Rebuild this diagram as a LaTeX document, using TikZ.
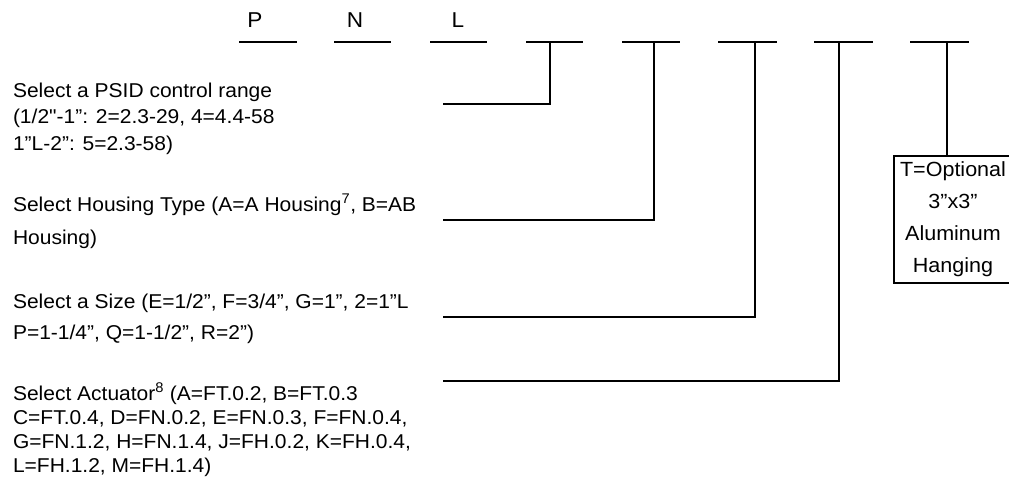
\documentclass[tikz,border=0pt]{standalone}
\usepackage{fontspec}
\newfontfamily\lblfont{Liberation Sans}[FakeStretch=1.05]

\begin{document}
\begin{tikzpicture}
    [
        x=1pt, y=-1pt, line width=2pt,
        blank_style/.style={draw=black, line width=2pt},
        lead_style/.style={draw=black, line width=2pt},
        letter_style/.style={anchor=base, inner sep=0pt, font=\lblfont\fontsize{21.5}{24}\selectfont},
        text_style/.style={anchor=base west, align=left, inner sep=0pt},
        box_style/.style={draw=black, line width=2pt, align=center, minimum width=118pt,
            minimum height=127pt, inner sep=0pt, font=\lblfont\fontsize{20.5}{32}\selectfont}
    ]
        \useasboundingbox (0,0) rectangle (1009,495);

        % blanks of the part number
        \coordinate (b1l) at (239,42); \coordinate (b1r) at (297,42);
        \coordinate (b2l) at (334,42); \coordinate (b2r) at (391,42);
        \coordinate (b3l) at (430,42); \coordinate (b3r) at (487,42);
        \coordinate (b4l) at (526,42); \coordinate (b4r) at (583,42);
        \coordinate (b5l) at (622,42); \coordinate (b5r) at (680,42);
        \coordinate (b6l) at (718,42); \coordinate (b6r) at (777,42);
        \coordinate (b7l) at (814,42); \coordinate (b7r) at (873,42);
        \coordinate (b8l) at (910,42); \coordinate (b8r) at (969,42);
        \draw[blank_style] (b1l) -- (b1r);
        \draw[blank_style] (b2l) -- (b2r);
        \draw[blank_style] (b3l) -- (b3r);
        \draw[blank_style] (b4l) -- (b4r);
        \draw[blank_style] (b5l) -- (b5r);
        \draw[blank_style] (b6l) -- (b6r);
        \draw[blank_style] (b7l) -- (b7r);
        \draw[blank_style] (b8l) -- (b8r);

        \node[letter_style] (p) at (255,28) {P};
        \node[letter_style] (n) at (355,28) {N};
        \node[letter_style] (l) at (458,28) {L};

        % taps on the open blanks
        \coordinate (t4) at (550,42);
        \coordinate (t5) at (654,42);
        \coordinate (t6) at (755,42);
        \coordinate (t7) at (839,42);
        \coordinate (t8) at (947,42);

        % option texts (base = last line)
        \node[text_style, font=\lblfont\fontsize{20}{26.5}\selectfont] (psid) at (12,150)
            {Select a PSID control range\\(1/2"-1”: 2=2.3-29, 4=4.4-58\\1”L-2”: 5=2.3-58)};
        \node[text_style, font=\lblfont\fontsize{20}{33}\selectfont] (housing) at (12,244)
            {Select Housing Type (A=A Housing\textsuperscript{7}, B=AB\\Housing)};
        \node[text_style, font=\lblfont\fontsize{20}{31}\selectfont] (size) at (12,339)
            {Select a Size (E=1/2”, F=3/4”, G=1”, 2=1”L\\P=1-1/4”, Q=1-1/2”, R=2”)};
        \node[text_style, font=\lblfont\fontsize{20}{24}\selectfont] (actuator) at (12,472)
            {Select Actuator\textsuperscript{8} (A=FT.0.2, B=FT.0.3\\C=FT.0.4, D=FN.0.2, E=FN.0.3, F=FN.0.4,\\G=FN.1.2, H=FN.1.4, J=FH.0.2, K=FH.0.4,\\L=FH.1.2, M=FH.1.4)};

        \node[box_style] (hang) at (953,219.5) {T=Optional\\3”x3”\\Aluminum\\Hanging};

        % leaders
        \coordinate (psid_lead) at (443,104);
        \coordinate (housing_lead) at (443,220);
        \coordinate (size_lead) at (443,317);
        \coordinate (actuator_lead) at (443,381);
        \draw[lead_style] (psid_lead) -| (t4);
        \draw[lead_style] (housing_lead) -| (t5);
        \draw[lead_style] (size_lead) -| (t6);
        \draw[lead_style] (actuator_lead) -| (t7);
        \draw[lead_style] (t8) -- (t8 |- hang.north);
    \end{tikzpicture}
\end{document}
